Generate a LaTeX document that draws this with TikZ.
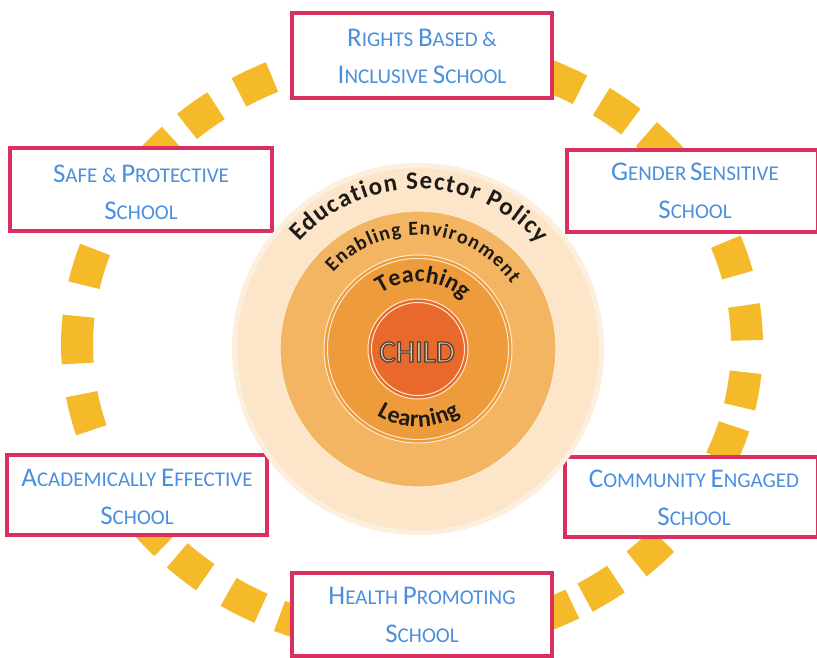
\documentclass[tikz,border=0pt]{standalone}
\usepackage{fontspec}
\setmainfont{Carlito}
\usetikzlibrary{decorations.text}
\definecolor{yel}{HTML}{F4BA2A}
\definecolor{boxred}{HTML}{D9305F}
\definecolor{bluet}{HTML}{4A8FDF}
\definecolor{peach}{HTML}{FCE5C8}
\definecolor{ringtwo}{HTML}{F3B562}
\definecolor{ringthree}{HTML}{EE9B3B}
\definecolor{childc}{HTML}{E8692B}
\definecolor{cream}{HTML}{FDEBD0}
\definecolor{childtxt}{HTML}{E2CFB4}
\definecolor{ringtxt}{HTML}{1E1A16}
\newcommand\SC[2]{{\fontsize{27}{27}\selectfont #1}#2}
\newcommand\outlinetext[1]{\special{pdf:literal direct 2 Tr 1.3 w 0.33 0.26 0.20 RG}#1\special{pdf:literal direct 0 Tr}}
\tikzset{
  sbox/.style={draw=boxred, line width=3.5pt, fill=white, inner sep=0pt},
  btext/.style={text=bluet, font=\fontsize{21}{21}\selectfont, anchor=base, inner sep=0pt},
  ringpath/.style={decorate, decoration={text along path, text align=fit to path, text color=ringtxt, text={#1}}},
  sq/.style={yel, line width=32pt}
}
\begin{document}
\begin{tikzpicture}[x=1pt,y=1pt]
\useasboundingbox (0,0) rectangle (817,658);
% golden squares along an ellipse
\foreach \t/\d in {63.1/3.2, 52.4/3.2, 42.4/3.2, 17.1/3.4, 4.3/3.4, -8.7/3.4, -19.4/3.4, -44.7/3.2, -55.7/3.2, -64.6/3.2, 249.9/3.2, 240/3.2, 228.7/3.2, 219.4/3.2, 193.2/3.6, 179/4.6, 164.7/3.6, 138.8/3.2, 129/3.2, 117.9/3.2}{
  \draw[sq] ({412+335*cos(\t-\d)},{313+295*sin(\t-\d)}) arc[start angle=\t-\d, end angle=\t+\d, x radius=335, y radius=295];
}
% boxes
\node[sbox, minimum width=260pt, minimum height=85pt] (rights) at (422,602.5) {};
\node[sbox, minimum width=262pt, minimum height=83pt] (safe) at (141,468.5) {};
\node[sbox, minimum width=251pt, minimum height=82pt] (gender) at (692.5,467) {};
\node[sbox, minimum width=260pt, minimum height=80pt] (acad) at (137,163) {};
\node[sbox, minimum width=253pt, minimum height=80pt] (comm) at (691.5,161) {};
\node[sbox, minimum width=260pt, minimum height=83pt] (health) at (422,43.5) {};
% box texts
\node[btext] (rightsA) at (422,611) {\SC{R}{IGHTS} \SC{B}{ASED} \&};
\node[btext] (rightsB) at (422,574) {\SC{I}{NCLUSIVE} \SC{S}{CHOOL}};
\node[btext] (safeA) at (141,475) {\SC{S}{AFE} \& \SC{P}{ROTECTIVE}};
\node[btext] (safeB) at (141,438) {\SC{S}{CHOOL}};
\node[btext] (genderA) at (695,477) {\SC{G}{ENDER}\,\SC{S}{ENSITIVE}};
\node[btext] (genderB) at (695,439) {\SC{S}{CHOOL}};
\node[btext] (acadA) at (137,171) {\SC{A}{CADEMICALLY} \SC{E}{FFECTIVE}};
\node[btext] (acadB) at (137,133) {\SC{S}{CHOOL}};
\node[btext] (commA) at (694,170) {\SC{C}{OMMUNITY} \SC{E}{NGAGED}};
\node[btext] (commB) at (694,132) {\SC{S}{CHOOL}};
\node[btext] (healthA) at (422,53) {\SC{H}{EALTH} \SC{P}{ROMOTING}};
\node[btext] (healthB) at (422,15) {\SC{S}{CHOOL}};
% central circles
\begin{scope}[shift={(418,309)}]
\fill[peach] (0,0) circle (186);
\draw[white, opacity=0.4, line width=5pt] (0,0) circle (183.5);
\fill[ringtwo] (0,0) circle (138);
\draw[cream, line width=1.2pt] (0,0) circle (138);
\fill[ringthree] (0,0) circle (94);
\draw[cream, line width=1pt] (0,0) circle (94) (0,0) circle (90.5);
\fill[childc] (0,0) circle (50);
\draw[cream, line width=1pt] (0,0) circle (50) (0,0) circle (46.5);
\path[ringpath={|\bfseries\fontsize{25}{25}\selectfont|Education Sector Policy}] (138:160) arc[start angle=138, end angle=41, radius=160];
\path[ringpath={|\bfseries\fontsize{20}{20}\selectfont|Enabling Environment}] (138:114) arc[start angle=138, end angle=35, radius=114];
\path[ringpath={|\bfseries\fontsize{24}{24}\selectfont|Teaching}] (124:67) arc[start angle=124, end angle=47, radius=67];
\path[ringpath={|\bfseries\fontsize{24}{24}\selectfont|Learning}] (238:78) arc[start angle=238, end angle=303, radius=78];
\node[font=\fontsize{31}{31}\selectfont, inner sep=0pt, text=childtxt] (child) at (-1,-3) {\outlinetext{CHILD}};
\end{scope}
\end{tikzpicture}
\end{document}
